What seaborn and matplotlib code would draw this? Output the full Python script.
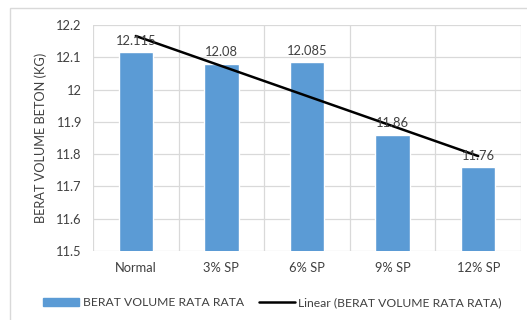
import numpy as np
import pandas as pd
import matplotlib
matplotlib.use("Agg")
import matplotlib.pyplot as plt
import seaborn as sns
from matplotlib.patches import Rectangle
from matplotlib.lines import Line2D

# data
categories = ["Normal", "3% SP", "6% SP", "9% SP", "12% SP"]
berat = [12.115, 12.08, 12.085, 11.86, 11.76]
value_labels = ["12.115", "12.08", "12.085", "11.86", "11.76"]
y_ticks = [11.5, 11.6, 11.7, 11.8, 11.9, 12.0, 12.1, 12.2]
y_tick_labels = ["11.5", "11.6", "11.7", "11.8", "11.9", "12", "12.1", "12.2"]

bar_color = "#5B9BD5"
text_color = "#404040"
grid_color = "#D9D9D9"

sns.set_style("white")
plt.rcParams["font.family"] = ["Lato", "DejaVu Sans"]

df = pd.DataFrame({"kategori": categories, "berat": berat})

fig = plt.figure(figsize=(5.27, 3.2), dpi=100)
ax = fig.add_axes([93 / 527, 1 - 251 / 320, (521 - 93) / 527, (251 - 25) / 320])

sns.barplot(data=df, x="kategori", y="berat", color=bar_color, width=0.4,
            saturation=1, ax=ax, zorder=2)

# linear trendline (Excel style)
xs = np.arange(len(berat))
slope, intercept = np.polyfit(xs, berat, 1)
ax.plot(xs, slope * xs + intercept, color="black", lw=1.8, zorder=3)

ax.set_ylim(11.5, 12.2)
ax.set_xlim(-0.5, len(categories) - 0.5)
ax.set_yticks(y_ticks)
ax.set_yticklabels(y_tick_labels)
ax.set_xlabel("")
ax.set_ylabel("BERAT VOLUME BETON (KG)", fontsize=9.2, color=text_color, labelpad=7)

# gridlines: horizontal at ticks, vertical at category boundaries
for y in y_ticks:
    ax.axhline(y, color=grid_color, lw=0.9, zorder=0)
for xb in np.arange(-0.5, len(categories), 1.0):
    ax.axvline(xb, color=grid_color, lw=0.9, zorder=0)

for s in ax.spines.values():
    s.set_visible(False)
ax.tick_params(axis="both", length=0, labelsize=9.3, colors=text_color)
ax.tick_params(axis="x", pad=8)
ax.tick_params(axis="y", pad=8)

for i, (v, lab) in enumerate(zip(berat, value_labels)):
    ax.annotate(lab, (i, v), xytext=(0, 4), textcoords="offset points",
                ha="center", va="bottom", fontsize=9.3, color=text_color, zorder=4)

handles = [Rectangle((0, 0), 1, 1, color=bar_color),
           Line2D([0], [0], color="black", lw=1.8)]
fig.legend(handles, ["BERAT VOLUME RATA RATA", "Linear (BERAT VOLUME RATA RATA)"],
           loc="center", bbox_to_anchor=(0.517, 1 - 303 / 320), ncol=2, frameon=False,
           fontsize=8.7, labelcolor=text_color, handlelength=3.0, handleheight=0.6,
           columnspacing=1.2, handletextpad=0.3)

# chart area border
fig.patches.append(Rectangle((10 / 527, -0.01), 1.1, 1 - 8 / 320 + 0.01,
                             transform=fig.transFigure, fill=False,
                             edgecolor=grid_color, lw=1))

fig.savefig("out.png", dpi=100)
